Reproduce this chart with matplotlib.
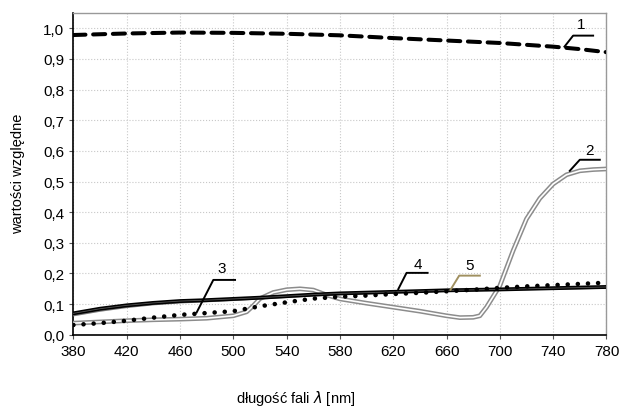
import matplotlib
matplotlib.use('Agg')
import matplotlib.pyplot as plt

plt.rcParams['font.family'] = ['Liberation Sans', 'DejaVu Sans']

# --- Data ---
wl1 = [380, 420, 460, 500, 540, 580, 620, 660, 700, 740, 760, 780]
v1  = [0.978, 0.983, 0.986, 0.985, 0.982, 0.977, 0.968, 0.960, 0.952, 0.940, 0.932, 0.922]

wl2 = [380, 400, 420, 440, 460, 480, 500, 510, 515, 520, 530, 540, 550, 560, 570, 580,
       600, 620, 640, 660, 670, 680, 685, 690, 700, 710, 720, 730, 740, 750, 760, 770, 780]
v2  = [0.038, 0.042, 0.046, 0.049, 0.051, 0.054, 0.062, 0.075, 0.095, 0.118, 0.138, 0.147,
       0.150, 0.146, 0.130, 0.117, 0.103, 0.090, 0.077, 0.062, 0.056, 0.057, 0.062, 0.090,
       0.160, 0.275, 0.378, 0.445, 0.492, 0.522, 0.535, 0.539, 0.541]

wl3 = [380, 400, 420, 440, 460, 480, 500, 520, 540, 560, 580, 600, 620, 640, 660, 680,
       700, 720, 740, 760, 780]
v3  = [0.032, 0.038, 0.046, 0.056, 0.065, 0.071, 0.077, 0.093, 0.106, 0.118, 0.124, 0.128,
       0.133, 0.137, 0.142, 0.147, 0.153, 0.158, 0.162, 0.166, 0.170]

wl4 = [380, 400, 420, 440, 460, 480, 500, 520, 540, 560, 580, 620, 660, 700, 740, 780]
v4  = [0.070, 0.085, 0.096, 0.104, 0.110, 0.113, 0.117, 0.121, 0.126, 0.131, 0.135, 0.140,
       0.145, 0.148, 0.152, 0.156]
v5  = [0.063, 0.078, 0.090, 0.099, 0.105, 0.109, 0.113, 0.118, 0.123, 0.128, 0.132, 0.138,
       0.143, 0.147, 0.150, 0.153]

x_ticks = list(range(380, 781, 40))
y_ticks = [i / 10 for i in range(11)]
y_ticklabels = [f'{t:.1f}'.replace('.', ',') for t in y_ticks]

# curve labels: (text, text pos, leader start, left end of bar, right end of bar, colour)
labels = [
    ('1', (761.3, 1.014), (748.5, 0.940), (755, 0.976), (770, 0.976), 'black'),
    ('2', (767.5, 0.604), (752.5, 0.535), (760, 0.571), (775, 0.571), 'black'),
    ('3', (491.3, 0.217), (472.5, 0.073), (485, 0.179), (501.3, 0.179), 'black'),
    ('4', (638.8, 0.231), (623.8, 0.149), (630, 0.202), (645.8, 0.202), 'black'),
    ('5', (677, 0.228), (663, 0.147), (669.5, 0.193), (685, 0.193), '#a09060'),
]

fig = plt.figure(figsize=(6.22, 4.10), dpi=100)
ax = fig.add_axes([0.118, 0.181, 0.857, 0.785])

# curve 2: grey double line
ax.plot(wl2, v2, color='#8c8c8c', lw=3.4, zorder=3)
ax.plot(wl2, v2, color='white', lw=1.2, zorder=3.1)
# curve 5: thin grey
ax.plot(wl4, v5, color='#777777', lw=1.3, zorder=3.5)
# curve 4: thick black
ax.plot(wl4, v4, color='black', lw=2.8, zorder=4)
ax.plot(wl4, v4, color='#555555', lw=0.6, zorder=4.1)
# curve 3: dotted
ax.plot(wl3, v3, color='black', lw=3.3, ls=(0, (0.01, 2.2)),
        dash_capstyle='round', zorder=5)
# curve 1: dashed
ax.plot(wl1, v1, color='black', lw=2.9, ls=(0, (3.0, 1.9)),
        dash_capstyle='round', zorder=5)

for txt, tpos, p0, p1, p2, col in labels:
    ax.plot([p0[0], p1[0], p2[0]], [p0[1], p1[1], p2[1]], color=col, lw=1.4,
            clip_on=False, zorder=6)
    ax.text(tpos[0], tpos[1], txt, ha='center', va='center', fontsize=11, zorder=6)

ax.set_xlim(380, 780)
ax.set_ylim(0, 1.05)
ax.set_xticks(x_ticks)
ax.set_yticks(y_ticks)
ax.set_yticklabels(y_ticklabels)
ax.tick_params(labelsize=11, length=3, width=0.8, direction='out', color='#555555')
ax.grid(True, color='#c8c8c8', ls=':', lw=0.8)
ax.set_axisbelow(True)

for side in ['top', 'right']:
    ax.spines[side].set_color('#999999')
    ax.spines[side].set_linewidth(1.0)
for side in ['left', 'bottom']:
    ax.spines[side].set_color('black')
    ax.spines[side].set_linewidth(1.2)

fig.text(0.029, 0.575, 'wartości względne', rotation=90, ha='center', va='center',
         fontsize=10.5)
fig.text(0.475, 0.028, 'długość fali $\\lambda$ [nm]', ha='center', va='center',
         fontsize=10.5)

fig.savefig('out.png', dpi=100)
